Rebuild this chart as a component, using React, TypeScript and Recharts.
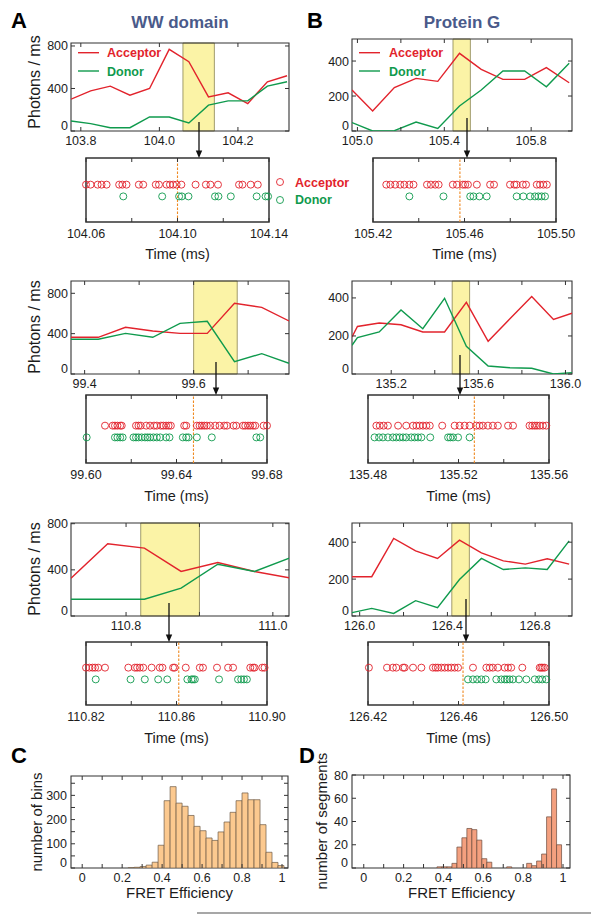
import React from "react";
import {
  LineChart,
  Line,
  ScatterChart,
  Scatter,
  BarChart,
  Bar,
  XAxis,
  YAxis,
  ReferenceArea,
  ReferenceLine,
} from "recharts";

// ---------- binned traces (photons / ms) ----------
// WW domain
const wwTime1 = [103.775, 103.825, 103.875, 103.925, 103.975, 104.025, 104.075, 104.125, 104.175, 104.225, 104.275, 104.325];
const wwAcc1 = [299, 378, 422, 337, 400, 768, 652, 321, 359, 258, 463, 520];
const wwDon1 = [94, 69, 31, 31, 132, 132, 76, 243, 283, 283, 422, 463];

const wwTime2 = [99.375, 99.425, 99.475, 99.525, 99.575, 99.625, 99.675, 99.725, 99.775];
const wwAcc2 = [364, 364, 463, 426, 403, 403, 701, 661, 526];
const wwDon2 = [344, 344, 403, 364, 502, 522, 122, 202, 106];

const wwTime3 = [110.725, 110.775, 110.825, 110.875, 110.925, 110.975, 111.025];
const wwAcc3 = [328, 626, 588, 386, 464, 386, 328];
const wwDon3 = [145, 145, 145, 241, 449, 386, 507];

// Protein G
const pgTime1 = [104.975, 105.07, 105.17, 105.27, 105.37, 105.47, 105.57, 105.67, 105.77, 105.87, 105.975];
const pgAcc1 = [234, 114, 248, 301, 284, 444, 352, 295, 295, 362, 276];
const pgDon1 = [48, 0, 2, 51, 15, 143, 234, 343, 343, 253, 387];

const pgTime2 = [135.02, 135.045, 135.145, 135.245, 135.345, 135.445, 135.545, 135.645, 135.745, 135.845, 135.945, 136.03];
const pgAcc2 = [195, 250, 268, 259, 221, 221, 377, 172, 290, 407, 287, 320];
const pgDon2 = [151, 191, 221, 337, 238, 398, 146, 42, 33, 30, 0, 7];

const pgTime3 = [125.965, 126.055, 126.155, 126.255, 126.355, 126.455, 126.555, 126.655, 126.755, 126.855, 126.955];
const pgAcc3 = [213, 213, 420, 353, 312, 411, 342, 299, 281, 310, 281];
const pgDon3 = [18, 41, 14, 83, 45, 198, 312, 252, 261, 252, 407];

// ---------- photon arrival times (ms) ----------
const wwPhAcc1 = [104.06, 104.062, 104.0651, 104.0668, 104.069, 104.0745, 104.0759, 104.0777, 104.0831, 104.085, 104.0905, 104.0919, 104.0952, 104.0967, 104.0981, 104.0996, 104.1017, 104.1079, 104.1124, 104.1144, 104.1177, 104.1269, 104.1284, 104.132, 104.1351];
const wwPhDon1 = [104.0763, 104.0933, 104.1007, 104.1019, 104.1048, 104.1164, 104.1179, 104.1233, 104.1346, 104.1385, 104.1396];

const wwPhAcc2 = [99.6084, 99.6118, 99.6128, 99.6139, 99.6151, 99.6158, 99.6221, 99.6232, 99.6242, 99.6266, 99.6283, 99.6301, 99.6313, 99.6331, 99.6342, 99.6354, 99.6365, 99.6375, 99.6434, 99.6443, 99.649, 99.6502, 99.6512, 99.6523, 99.6534, 99.6549, 99.6571, 99.659, 99.6611, 99.6623, 99.6652, 99.6664, 99.6694, 99.6704, 99.6716, 99.6726, 99.6738, 99.6748, 99.6785, 99.68];
const wwPhDon2 = [99.6003, 99.6128, 99.6139, 99.6151, 99.6162, 99.621, 99.6221, 99.6232, 99.6246, 99.6261, 99.6272, 99.6283, 99.6298, 99.6313, 99.6328, 99.6354, 99.6369, 99.6428, 99.6443, 99.6453, 99.649, 99.6556, 99.6753, 99.677];

const wwPhAcc3 = [110.82, 110.8215, 110.8229, 110.824, 110.8254, 110.8284, 110.8387, 110.8416, 110.8426, 110.8438, 110.8453, 110.849, 110.8526, 110.8538, 110.8585, 110.8592, 110.8641, 110.8703, 110.8717, 110.8779, 110.8828, 110.885, 110.8926, 110.8938, 110.8945, 110.8979, 110.8989];
const wwPhDon3 = [110.8243, 110.8397, 110.846, 110.8519, 110.8559, 110.8648, 110.8666, 110.8673, 110.8681, 110.8788, 110.8872, 110.8886, 110.8898, 110.8911];

const pgPhAcc1 = [105.4258, 105.4276, 105.4297, 105.4319, 105.4337, 105.4359, 105.4377, 105.4436, 105.4453, 105.4472, 105.4487, 105.4549, 105.4567, 105.4593, 105.4603, 105.4615, 105.4654, 105.4712, 105.4729, 105.4799, 105.4818, 105.4828, 105.4855, 105.4869, 105.4916, 105.493, 105.4945, 105.496];
const pgPhDon1 = [105.4359, 105.4508, 105.4625, 105.4639, 105.4665, 105.4697, 105.4828, 105.4857, 105.4887, 105.4908, 105.4923, 105.4937, 105.4952];

const pgPhAcc2 = [135.4837, 135.4852, 135.4869, 135.4888, 135.4933, 135.4969, 135.4999, 135.5014, 135.5028, 135.5043, 135.5058, 135.5073, 135.5128, 135.5183, 135.5205, 135.5227, 135.5249, 135.5279, 135.5293, 135.5308, 135.533, 135.5352, 135.5374, 135.5419, 135.5441, 135.5514, 135.5526, 135.5537, 135.5547, 135.5559, 135.5573, 135.5588];
const pgPhDon2 = [135.4829, 135.4849, 135.4866, 135.4888, 135.491, 135.4925, 135.494, 135.4955, 135.4969, 135.4991, 135.5006, 135.5021, 135.5036, 135.5075, 135.5154, 135.5164, 135.5176, 135.5198, 135.5249];

const pgPhAcc3 = [126.4204, 126.4284, 126.431, 126.4325, 126.4355, 126.4362, 126.4399, 126.4436, 126.4487, 126.4499, 126.4509, 126.4524, 126.4539, 126.4554, 126.4568, 126.4583, 126.4598, 126.4664, 126.4723, 126.4738, 126.4752, 126.4774, 126.4804, 126.4819, 126.4833, 126.4882, 126.4959, 126.4966, 126.4973, 126.4981];
const pgPhDon3 = [126.4642, 126.4664, 126.4682, 126.4701, 126.472, 126.4767, 126.4789, 126.4804, 126.4814, 126.4826, 126.4841, 126.4867, 126.49, 126.4937, 126.4956, 126.497, 126.4988];

// ---------- FRET efficiency histograms ----------
const wwFretBins = [0.245, 0.275, 0.305, 0.335, 0.365, 0.395, 0.425, 0.455, 0.485, 0.515, 0.545, 0.575, 0.605, 0.635, 0.665, 0.695, 0.725, 0.755, 0.785, 0.815, 0.845, 0.875, 0.905, 0.935, 0.965, 0.995];
const wwFretCounts = [1, 3, 6, 12, 24, 94, 278, 336, 268, 255, 217, 172, 154, 124, 114, 149, 190, 230, 278, 310, 282, 282, 179, 65, 23, 10];

const pgFretBins = [0.38, 0.405, 0.43, 0.455, 0.48, 0.505, 0.53, 0.555, 0.58, 0.605, 0.63, 0.655, 0.68, 0.705, 0.73, 0.755, 0.78, 0.805, 0.83, 0.855, 0.88, 0.905, 0.93, 0.955, 0.98];
const pgFretCounts = [1, 1, 1, 4, 18, 26, 34, 33, 24, 8, 5, 0, 0, 0, 1, 0, 0, 0, 4, 2, 6, 12, 44, 68, 20];

// ---------- tick labels ----------
const wwTicks1 = [103.8, 104.0, 104.2];
const wwTickLab1 = ["103.8", "104.0", "104.2"];
const wwTicks2 = [99.4, 99.5, 99.6, 99.7];
const wwTickLab2 = ["99.4", "", "99.6", ""];
const wwTicks3 = [110.8, 110.9, 111.0];
const wwTickLab3 = ["110.8", "", "111.0"];
const pgTicks1 = [105.0, 105.2, 105.4, 105.6, 105.8];
const pgTickLab1 = ["105.0", "", "105.4", "", "105.8"];
const pgTicks2 = [135.2, 135.4, 135.6, 135.8, 136.0];
const pgTickLab2 = ["135.2", "", "135.6", "", "136.0"];
const pgTicks3 = [126.0, 126.2, 126.4, 126.6, 126.8];
const pgTickLab3 = ["126.0", "", "126.4", "", "126.8"];

const wwZoomTicks1 = [104.06, 104.08, 104.1, 104.12, 104.14];
const wwZoomLab1 = ["104.06", "", "104.10", "", "104.14"];
const wwZoomTicks2 = [99.6, 99.62, 99.64, 99.66, 99.68];
const wwZoomLab2 = ["99.60", "", "99.64", "", "99.68"];
const wwZoomTicks3 = [110.82, 110.84, 110.86, 110.88, 110.9];
const wwZoomLab3 = ["110.82", "", "110.86", "", "110.90"];
const pgZoomTicks1 = [105.42, 105.44, 105.46, 105.48, 105.5];
const pgZoomLab1 = ["105.42", "", "105.46", "", "105.50"];
const pgZoomTicks2 = [135.48, 135.5, 135.52, 135.54, 135.56];
const pgZoomLab2 = ["135.48", "", "135.52", "", "135.56"];
const pgZoomTicks3 = [126.42, 126.44, 126.46, 126.48, 126.5];
const pgZoomLab3 = ["126.42", "", "126.46", "", "126.50"];

const wwYTicks = [0, 400, 800];
const wwYLab = ["0", "400", "800"];
const pgYTicks = [0, 200, 400];
const pgYLab = ["0", "200", "400"];

const fretTicks = [0, 0.1, 0.2, 0.3, 0.4, 0.5, 0.6, 0.7, 0.8, 0.9, 1];
const fretLab = ["0", "", "0.2", "", "0.4", "", "0.6", "", "0.8", "", "1"];
const binTicks = [0, 50, 100, 150, 200, 250, 300, 350];
const binLab = ["0", "", "100", "", "200", "", "300", ""];
const segTicks = [0, 20, 40, 60, 80];
const segLab = ["0", "20", "40", "60", "80"];

// ---------- style ----------
const FONT = '"Liberation Sans", Arial, Helvetica, sans-serif';
const RED = "#e2232c";
const GREEN = "#0f9a4d";
const YELLOW = "#fbf3a6";
const HL_EDGE = "#8a8452";
const FRAME = "#333333";
const INK = "#1c1c1c";
const ORANGE = "#ef8a22";
const TITLE = "#4a5a8a";
const TL = 4;
const PX_PER_LEVEL = 10.67;
const ACC_LEVEL = 3.5;
const DON_LEVEL = 2.4;

type Box = { x: number; y: number; w: number; h: number };

function xTick(ticks: number[], labels: string[], plotH: number, gap: number) {
  return (p: any) => {
    const { x, y, payload } = p;
    const b = y - gap;
    const lab = labels[ticks.indexOf(payload.value)] || "";
    return (
      <g>
        <line x1={x} x2={x} y1={b} y2={b - TL} stroke={FRAME} />
        <line x1={x} x2={x} y1={b - plotH} y2={b - plotH + TL} stroke={FRAME} />
        {lab ? (
          <text x={x} y={y} dy="0.72em" textAnchor="middle" fontSize={12.5} fontFamily={FONT} fill={INK}>
            {lab}
          </text>
        ) : null}
      </g>
    );
  };
}

function yTick(ticks: number[], labels: string[], plotW: number, gap: number) {
  return (p: any) => {
    const { x, y, payload } = p;
    const l = x + gap;
    const lab = labels[ticks.indexOf(payload.value)] || "";
    // zero label sits on the corner, a bit high, clear of the time labels
    const dy = payload.value === 0 ? "-0.05em" : "0.36em";
    return (
      <g>
        <line x1={l} x2={l + TL} y1={y} y2={y} stroke={FRAME} />
        <line x1={l + plotW - TL} x2={l + plotW} y1={y} y2={y} stroke={FRAME} />
        {lab ? (
          <text x={x} y={y} dy={dy} textAnchor="end" fontSize={12.5} fontFamily={FONT} fill={INK}>
            {lab}
          </text>
        ) : null}
      </g>
    );
  };
}

function TracePanel(props: {
  box: Box;
  t: number[];
  acc: number[];
  don: number[];
  xDomain: [number, number];
  yMax: number;
  xTicks: number[];
  xLabels: string[];
  yTicks: number[];
  yLabels: string[];
  hl: [number, number];
}) {
  const { box, t, acc, don, xDomain, yMax, xTicks, xLabels, yTicks, yLabels, hl } = props;
  const YW = 40, MT = 6, MR = 14, XH = 26;
  const rows = t.map((v, i) => ({ t: v, acc: acc[i], don: don[i] }));
  return (
    <div style={{ position: "absolute", left: box.x - YW, top: box.y - MT }}>
      <LineChart
        width={box.w + YW + MR}
        height={box.h + MT + XH}
        data={rows}
        margin={{ top: MT, right: MR, bottom: 0, left: 0 }}
      >
        <ReferenceArea x1={hl[0]} x2={hl[1]} y1={0} y2={yMax} fill={YELLOW} fillOpacity={1} stroke={HL_EDGE} strokeWidth={0.8} />
        <XAxis
          dataKey="t"
          type="number"
          domain={xDomain}
          allowDataOverflow
          ticks={xTicks}
          interval={0}
          height={XH}
          axisLine={false}
          tickLine={false}
          tickSize={0}
          tickMargin={5}
          tick={xTick(xTicks, xLabels, box.h, 5)}
        />
        <YAxis
          type="number"
          domain={[0, yMax]}
          allowDataOverflow
          ticks={yTicks}
          interval={0}
          width={YW}
          axisLine={false}
          tickLine={false}
          tickSize={0}
          tickMargin={3}
          tick={yTick(yTicks, yLabels, box.w, 3)}
        />
        <Line type="linear" dataKey="acc" stroke={RED} strokeWidth={1.4} dot={false} activeDot={false} isAnimationActive={false} />
        <Line type="linear" dataKey="don" stroke={GREEN} strokeWidth={1.4} dot={false} activeDot={false} isAnimationActive={false} />
        <ReferenceArea x1={xDomain[0]} x2={xDomain[1]} y1={0} y2={yMax} fill="none" stroke={FRAME} strokeWidth={1.1} />
      </LineChart>
    </div>
  );
}

const ring = (color: string) => (p: any) =>
  <circle cx={p.cx} cy={p.cy} r={3.5} fill="none" stroke={color} strokeWidth={0.9} />;

function RasterPanel(props: {
  box: Box;
  acc: number[];
  don: number[];
  xDomain: [number, number];
  ticks: number[];
  labels: string[];
  mark: number;
}) {
  const { box, acc, don, xDomain, ticks, labels, mark } = props;
  const ML = 26, MR = 26, MT = 6, XH = 26;
  const yTop = box.h / PX_PER_LEVEL;
  const accPts = acc.map((t) => ({ t, y: ACC_LEVEL }));
  const donPts = don.map((t) => ({ t, y: DON_LEVEL }));
  return (
    <div style={{ position: "absolute", left: box.x - ML, top: box.y - MT }}>
      <ScatterChart
        width={box.w + ML + MR}
        height={box.h + MT + XH}
        margin={{ top: MT, right: MR, bottom: 0, left: ML }}
      >
        <XAxis
          dataKey="t"
          type="number"
          domain={xDomain}
          ticks={ticks}
          interval={0}
          height={XH}
          axisLine={false}
          tickLine={false}
          tickSize={0}
          tickMargin={7}
          tick={xTick(ticks, labels, box.h, 7)}
        />
        <YAxis dataKey="y" type="number" domain={[0, yTop]} hide />
        <ReferenceLine x={mark} stroke={ORANGE} strokeWidth={1.1} strokeDasharray="2.5 1.5" />
        <Scatter data={accPts} shape={ring(RED)} isAnimationActive={false} />
        <Scatter data={donPts} shape={ring(GREEN)} isAnimationActive={false} />
        <ReferenceArea x1={xDomain[0]} x2={xDomain[1]} y1={0} y2={yTop} fill="none" stroke={FRAME} strokeWidth={1.5} />
      </ScatterChart>
    </div>
  );
}

function HistPanel(props: {
  box: Box;
  bins: number[];
  counts: number[];
  xDomain: [number, number];
  yMax: number;
  yTicks: number[];
  yLabels: string[];
  fill: string;
  edge: string;
}) {
  const { box, bins, counts, xDomain, yMax, yTicks, yLabels, fill, edge } = props;
  const YW = 40, MT = 6, MR = 14, XH = 26;
  const rows = bins.map((x, i) => ({ x, n: counts[i] }));
  return (
    <div style={{ position: "absolute", left: box.x - YW, top: box.y - MT }}>
      <BarChart
        width={box.w + YW + MR}
        height={box.h + MT + XH}
        data={rows}
        barCategoryGap={0}
        barGap={0}
        margin={{ top: MT, right: MR, bottom: 0, left: 0 }}
      >
        <XAxis
          dataKey="x"
          type="number"
          domain={xDomain}
          allowDataOverflow
          ticks={fretTicks}
          interval={0}
          height={XH}
          axisLine={false}
          tickLine={false}
          tickSize={0}
          tickMargin={5}
          tick={xTick(fretTicks, fretLab, box.h, 5)}
        />
        <YAxis
          type="number"
          domain={[0, yMax]}
          allowDataOverflow
          ticks={yTicks}
          interval={0}
          width={YW}
          axisLine={false}
          tickLine={false}
          tickSize={0}
          tickMargin={4}
          tick={yTick(yTicks, yLabels, box.w, 4)}
        />
        <Bar dataKey="n" fill={fill} stroke={edge} strokeWidth={0.7} isAnimationActive={false} />
        <ReferenceArea x1={xDomain[0]} x2={xDomain[1]} y1={0} y2={yMax} fill="none" stroke={FRAME} strokeWidth={1.1} />
      </BarChart>
    </div>
  );
}

function Arrow({ x, y1, y2 }: { x: number; y1: number; y2: number }) {
  return (
    <g>
      <line x1={x} x2={x} y1={y1} y2={y2 - 6} stroke="#111" strokeWidth={1.3} />
      <polygon points={`${x},${y2} ${x - 3.2},${y2 - 7.5} ${x + 3.2},${y2 - 7.5}`} fill="#111" />
    </g>
  );
}

export default function App() {
  const bold = { fontWeight: "bold" as const };
  return (
    <div style={{ position: "absolute", left: 0, top: 0, width: 591, height: 914, background: "#fff", overflow: "hidden" }}>
      <TracePanel box={{ x: 71, y: 43, w: 218, h: 88 }} t={wwTime1} acc={wwAcc1} don={wwDon1} xDomain={[103.775, 104.33]} yMax={828} xTicks={wwTicks1} xLabels={wwTickLab1} yTicks={wwYTicks} yLabels={wwYLab} hl={[104.06, 104.14]} />
      <TracePanel box={{ x: 352, y: 39, w: 220, h: 92 }} t={pgTime1} acc={pgAcc1} don={pgDon1} xDomain={[104.975, 105.988]} yMax={526} xTicks={pgTicks1} xLabels={pgTickLab1} yTicks={pgYTicks} yLabels={pgYLab} hl={[105.44, 105.52]} />
      <TracePanel box={{ x: 71, y: 281, w: 218, h: 93 }} t={wwTime2} acc={wwAcc2} don={wwDon2} xDomain={[99.375, 99.775]} yMax={922} xTicks={wwTicks2} xLabels={wwTickLab2} yTicks={wwYTicks} yLabels={wwYLab} hl={[99.6, 99.68]} />
      <TracePanel box={{ x: 352, y: 281, w: 220, h: 93 }} t={pgTime2} acc={pgAcc2} don={pgDon2} xDomain={[135.02, 136.03]} yMax={489} xTicks={pgTicks2} xLabels={pgTickLab2} yTicks={pgYTicks} yLabels={pgYLab} hl={[135.48, 135.56]} />
      <TracePanel box={{ x: 71, y: 523, w: 218, h: 93 }} t={wwTime3} acc={wwAcc3} don={wwDon3} xDomain={[110.725, 111.022]} yMax={806} xTicks={wwTicks3} xLabels={wwTickLab3} yTicks={wwYTicks} yLabels={wwYLab} hl={[110.82, 110.9]} />
      <TracePanel box={{ x: 352, y: 523, w: 220, h: 93 }} t={pgTime3} acc={pgAcc3} don={pgDon3} xDomain={[125.965, 126.968]} yMax={504} xTicks={pgTicks3} xLabels={pgTickLab3} yTicks={pgYTicks} yLabels={pgYLab} hl={[126.42, 126.5]} />

      <RasterPanel box={{ x: 86, y: 158, w: 183, h: 64 }} acc={wwPhAcc1} don={wwPhDon1} xDomain={[104.06, 104.14]} ticks={wwZoomTicks1} labels={wwZoomLab1} mark={104.1} />
      <RasterPanel box={{ x: 373, y: 158, w: 183, h: 64 }} acc={pgPhAcc1} don={pgPhDon1} xDomain={[105.42, 105.5]} ticks={pgZoomTicks1} labels={pgZoomLab1} mark={105.458} />
      <RasterPanel box={{ x: 86, y: 395, w: 181, h: 68 }} acc={wwPhAcc2} don={wwPhDon2} xDomain={[99.6, 99.68]} ticks={wwZoomTicks2} labels={wwZoomLab2} mark={99.6475} />
      <RasterPanel box={{ x: 368, y: 395, w: 181, h: 68 }} acc={pgPhAcc2} don={pgPhDon2} xDomain={[135.48, 135.56]} ticks={pgZoomTicks2} labels={pgZoomLab2} mark={135.527} />
      <RasterPanel box={{ x: 86, y: 642, w: 181, h: 63 }} acc={wwPhAcc3} don={wwPhDon3} xDomain={[110.82, 110.9]} ticks={wwZoomTicks3} labels={wwZoomLab3} mark={110.861} />
      <RasterPanel box={{ x: 368, y: 642, w: 181, h: 63 }} acc={pgPhAcc3} don={pgPhDon3} xDomain={[126.42, 126.5]} ticks={pgZoomTicks3} labels={pgZoomLab3} mark={126.462} />

      <HistPanel box={{ x: 71, y: 776, w: 217, h: 92 }} bins={wwFretBins} counts={wwFretCounts} xDomain={[-0.056, 1.03]} yMax={380} yTicks={binTicks} yLabels={binLab} fill="#fcc98f" edge="#6d5a46" />
      <HistPanel box={{ x: 352, y: 775, w: 218, h: 93 }} bins={pgFretBins} counts={pgFretCounts} xDomain={[-0.059, 1.035]} yMax={80} yTicks={segTicks} yLabels={segLab} fill="#f4a07f" edge="#6a4a3e" />

      <svg width={591} height={914} style={{ position: "absolute", left: 0, top: 0, pointerEvents: "none" }} fontFamily={FONT}>
        <text x={11} y={28} fontSize={22} {...bold} fill="#000">A</text>
        <text x={180} y={27.5} textAnchor="middle" fontSize={17} {...bold} fill={TITLE}>WW domain</text>
        <text x={307} y={28} fontSize={22} {...bold} fill="#000">B</text>
        <text x={462} y={28} textAnchor="middle" fontSize={17} {...bold} fill={TITLE}>Protein G</text>
        <text x={11} y={763} fontSize={22} {...bold} fill="#000">C</text>
        <text x={299} y={763} fontSize={22} {...bold} fill="#000">D</text>

        {/* legends in the top traces */}
        <line x1={78} x2={99} y1={52.7} y2={52.7} stroke={RED} strokeWidth={1.4} />
        <text x={107} y={57.3} fontSize={12.5} {...bold} fill={RED}>Acceptor</text>
        <line x1={78} x2={99} y1={71} y2={71} stroke={GREEN} strokeWidth={1.4} />
        <text x={107} y={75.6} fontSize={12.5} {...bold} fill={GREEN}>Donor</text>
        <line x1={359} x2={380} y1={52.7} y2={52.7} stroke={RED} strokeWidth={1.4} />
        <text x={389} y={57.3} fontSize={12.5} {...bold} fill={RED}>Acceptor</text>
        <line x1={359} x2={380} y1={71} y2={71} stroke={GREEN} strokeWidth={1.4} />
        <text x={389} y={75.6} fontSize={12.5} {...bold} fill={GREEN}>Donor</text>

        {/* photon legend */}
        <circle cx={280} cy={182} r={3.5} fill="none" stroke={RED} strokeWidth={0.9} />
        <text x={295} y={186.5} fontSize={12.5} {...bold} fill={RED}>Acceptor</text>
        <circle cx={280} cy={200} r={3.5} fill="none" stroke={GREEN} strokeWidth={0.9} />
        <text x={295} y={204} fontSize={12.5} {...bold} fill={GREEN}>Donor</text>

        {/* axis titles */}
        {[82, 327, 569].map((cy) => (
          <text key={cy} transform={`translate(39.5,${cy}) rotate(-90)`} textAnchor="middle" fontSize={16} fill={INK}>Photons / ms</text>
        ))}
        {[[177.5, 259], [464.5, 259], [176.5, 501], [458.5, 501], [176.5, 742.5], [458.5, 742.5]].map(([x, y]) => (
          <text key={`${x}-${y}`} x={x} y={y} textAnchor="middle" fontSize={14.5} fill={INK}>Time (ms)</text>
        ))}
        <text transform="translate(41.5,822) rotate(-90)" textAnchor="middle" fontSize={15} fill={INK}>number of bins</text>
        <text transform="translate(327,821) rotate(-90)" textAnchor="middle" fontSize={15} fill={INK}>number of segments</text>
        <text x={179.5} y={897.5} textAnchor="middle" fontSize={15} fill={INK}>FRET Efficiency</text>
        <text x={461.5} y={897.5} textAnchor="middle" fontSize={15} fill={INK}>FRET Efficiency</text>

        {/* zoom arrows */}
        <Arrow x={199} y1={122} y2={158} />
        <Arrow x={467} y1={118} y2={158} />
        <Arrow x={216} y1={362} y2={395} />
        <Arrow x={460} y1={355} y2={395} />
        <Arrow x={169} y1={603} y2={642} />
        <Arrow x={466} y1={599} y2={642} />

        <line x1={197} x2={591} y1={913} y2={913} stroke="#8a8a8a" strokeWidth={1.5} />
      </svg>
    </div>
  );
}
